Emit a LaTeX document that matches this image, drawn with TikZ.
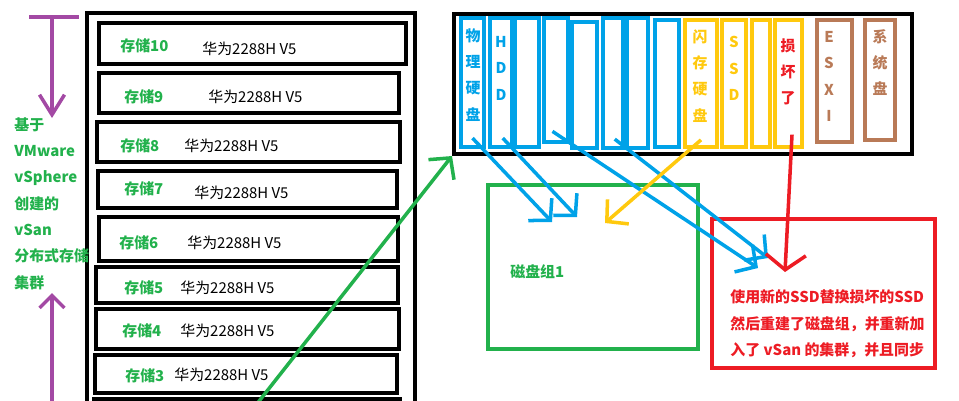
\documentclass[tikz,border=0pt]{standalone}
\usepackage{fontspec}
\setmainfont{Noto Sans CJK SC}
\usepackage{xcolor}
\usetikzlibrary{arrows.meta,fit}

\definecolor{pgreen}{RGB}{34,177,76}
\definecolor{pblue}{RGB}{0,162,232}
\definecolor{pyellow}{RGB}{255,201,14}
\definecolor{pbrown}{RGB}{185,122,87}
\definecolor{pred}{RGB}{237,28,36}
\definecolor{ppurple}{RGB}{163,73,164}

\begin{document}
\begin{tikzpicture}[
    x=0.02cm, y=-0.02cm,
    srv/.style={draw, line width=2.3pt, inner sep=0pt},
    disk/.style={draw, line width=1.9pt, inner sep=0pt},
    tag/.style={text=pgreen, font=\fontsize{8.5}{10}\bfseries, anchor=west, inner sep=0pt},
    model/.style={font=\fontsize{8.5}{10}\selectfont, anchor=west, inner sep=0pt},
    vtext/.style={font=\fontsize{8.5}{15}\bfseries, align=center, anchor=north, inner sep=0pt},
    hand/.style={line width=2pt, -{Straight Barb[length=3mm,width=6.5mm]}},
    ]
  \useasboundingbox (0,0) rectangle (959,400);
  \clip (0,0) rectangle (959,400);

  \draw[line width=2pt] (87,13) rectangle (415,420);
  \node[srv, fit={(99,23) (406,64)}] (s10) {};
  \node[srv, fit={(99,73) (399,113)}] (s9) {};
  \node[srv, fit={(97,122) (400,162)}] (s8) {};
  \node[srv, fit={(98,171) (397,208)}] (s7) {};
  \node[srv, fit={(99,217) (398,261)}] (s6) {};
  \node[srv, fit={(96,267) (398,303)}] (s5) {};
  \node[srv, fit={(96,309) (399,349)}] (s4) {};
  \node[srv, fit={(95,355) (397,393)}] (s3) {};
  \node[srv, fit={(94,399) (400,440)}] (s2) {};

  \node[tag] (t10) at (120,46) {存储10};
  \node[tag] (t9) at (124,97) {存储9};
  \node[tag] (t8) at (120,146) {存储8};
  \node[tag] (t7) at (124,189) {存储7};
  \node[tag] (t6) at (119,243) {存储6};
  \node[tag] (t5) at (124,288) {存储5};
  \node[tag] (t4) at (122,331) {存储4};
  \node[tag] (t3) at (125,376) {存储3};
  \node[model] (m10) at (202,49) {华为2288H V5};
  \node[model] (m9) at (208,97) {华为2288H V5};
  \node[model] (m8) at (184,146) {华为2288H V5};
  \node[model] (m7) at (194,193) {华为2288H V5};
  \node[model] (m6) at (187,243) {华为2288H V5};
  \node[model] (m5) at (180,288) {华为2288H V5};
  \node[model] (m4) at (180,331) {华为2288H V5};
  \node[model] (m3) at (174,375) {华为2288H V5};

  \draw[ppurple, line width=2pt] (29,17) -- (79,17);
  \draw[hand, ppurple, -{Straight Barb[length=4mm,width=5mm]}] (52,17) -- (52,118);
  \draw[hand, ppurple, -{Straight Barb[length=2.5mm,width=5mm]}] (52,405) -- (52,293);
  \node[text=pgreen, font=\fontsize{8.5}{15}\bfseries, align=left, anchor=north west, inner sep=0pt] (vs) at (14,117)
    {基于\\VMware\\vSphere\\创建的\\vSan\\分布式存储\\集群};

  \node[srv, fit={(454,14) (912,154)}] (rack) {};
  \node[disk, pblue, fit={(461,18) (484,147)}] (d1) {};
  \node[disk, pblue, fit={(490,18) (512,147)}] (d2) {};
  \node[disk, pblue, fit={(515,18) (539,147)}] (d3) {};
  \node[disk, pblue, fit={(544,18) (568,142)}] (d4) {};
  \node[disk, pblue, fit={(572,22) (597,148)}] (d5) {};
  \node[disk, pblue, fit={(603,18) (623,148)}] (d6) {};
  \node[disk, pblue, fit={(627,18) (648,148)}] (d7) {};
  \node[disk, pblue, fit={(655,20) (679,147)}] (d8) {};
  \node[disk, pyellow, fit={(685,20) (717,147)}] (f1) {};
  \node[disk, pyellow, fit={(722,20) (746,147)}] (f2) {};
  \node[disk, pyellow, fit={(752,20) (770,147)}] (f3) {};
  \node[disk, pyellow, fit={(775,20) (802,147)}] (f4) {};
  \node[disk, pbrown, fit={(817,20) (852,142)}] (e1) {};
  \node[disk, pbrown, fit={(865,20) (895,140)}] (e2) {};

  \node[vtext, text=pblue] (w1) at (473,28) {物\\理\\硬\\盘};
  \node[vtext, text=pblue] (w2) at (501,36) {H\\D\\D};
  \node[vtext, text=pyellow] (w3) at (700,29) {闪\\存\\硬\\盘};
  \node[vtext, text=pyellow] (w4) at (734,36) {S\\S\\D};
  \node[vtext, text=pred] (w5) at (788,38) {损\\坏\\了};
  \node[vtext, text=pbrown] (w6) at (829,31) {E\\S\\X\\I};
  \node[vtext, text=pbrown] (w7) at (880,29) {系\\统\\盘};

  \node[disk, pgreen, fit={(488,185) (698,349)}] (grp) {};
  \node[tag] (g1) at (510,272) {磁盘组1};
  \node[disk, pred, fit={(712,219) (935,368)}] (fix) {};
  \node[text=pred, font=\fontsize{8.5}{15.3}\bfseries, align=left, anchor=north west, inner sep=0pt] (note) at (730,289)
    {使用新的SSD替换损坏的SSD\\然后重建了磁盘组，并重新加\\入了 vSan 的集群，并且同步};

  \coordinate (ga) at (552,222);
  \coordinate (gb) at (577,217);
  \coordinate (gc) at (605,223);
  \coordinate (ra) at (758,268);
  \coordinate (rb) at (768,258);
  \coordinate (rc) at (785,272);
  \coordinate (low) at (256,405);

  \draw[hand, pblue] ([yshift=6pt]d1.south) -- (ga);
  \draw[hand, pblue] ([yshift=6pt,xshift=1pt]d2.south) -- (gb);
  \draw[hand, pblue] ([yshift=7pt,xshift=-2pt]d4.south) -- (ra);
  \draw[hand, pblue] ([yshift=6pt,xshift=1pt]d6.south) -- (rb);
  \draw[hand, pyellow] ([yshift=5pt]f1.south) -- (gc);
  \draw[hand, pred, -{Straight Barb[length=3mm,width=8mm]}] ([yshift=8pt,xshift=2pt]f4.south) -- (rc);
  \draw[hand, pgreen] (low) -- (rack.south west);
\end{tikzpicture}
\end{document}
